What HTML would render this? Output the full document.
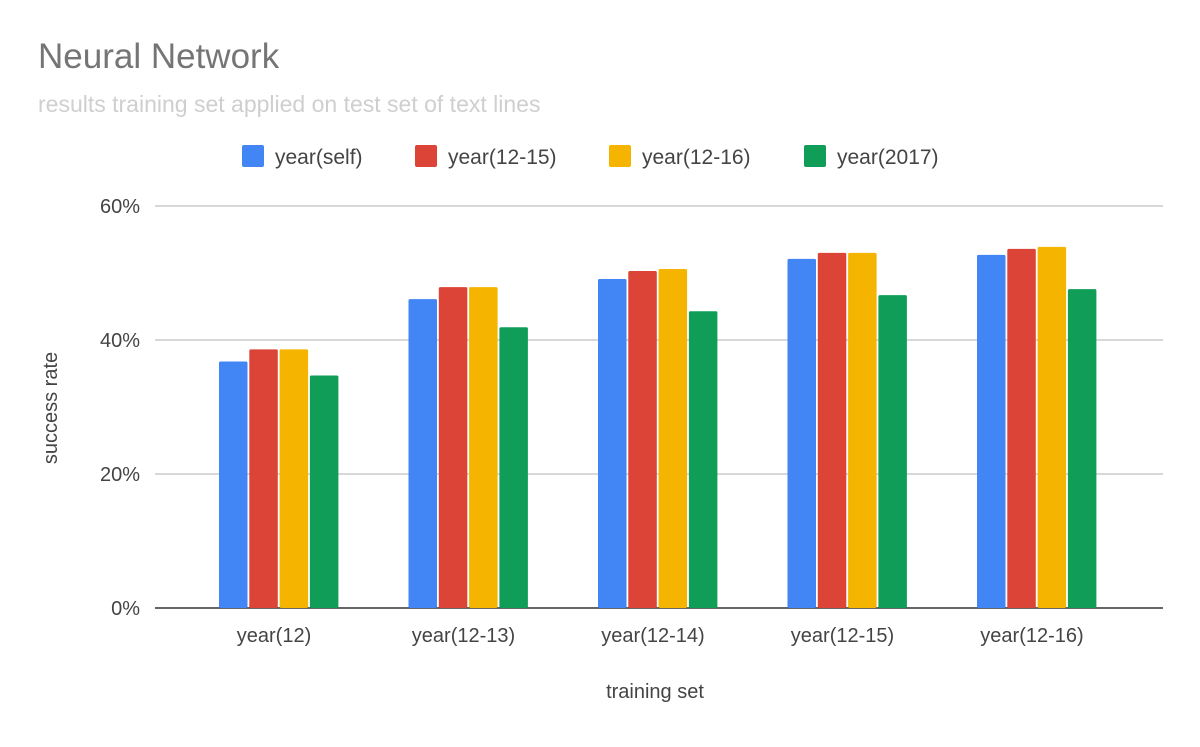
<!DOCTYPE html>
<html><head><meta charset="utf-8"><style>
body{margin:0;background:#fff;width:1200px;height:742px;overflow:hidden;font-family:"Liberation Sans",sans-serif}
</style></head><body>
<svg id="chart" width="1200" height="742">
<text x="38" y="68" font-size="35" fill="#757575">Neural Network</text>
<text x="38" y="112" font-size="23" fill="#cfcfcf">results training set applied on test set of text lines</text>
<g id="legend"></g>
<g id="grid"></g><g id="bars"></g><g id="labels"></g>
<text x="655" y="698" font-size="20" fill="#444" text-anchor="middle">training set</text>
<text transform="translate(57,408) rotate(-90)" font-size="20" fill="#444" text-anchor="middle">success rate</text>
</svg>
<script>
const categories=["year(12)","year(12-13)","year(12-14)","year(12-15)","year(12-16)"];
const seriesNames=["year(self)","year(12-15)","year(12-16)","year(2017)"];
const selfVals=[36.8,46.1,49.1,52.1,52.7];
const v1215=[38.6,47.9,50.3,53.0,53.6];
const v1216=[38.6,47.9,50.6,53.0,53.9];
const v2017=[34.7,41.9,44.3,46.7,47.6];
const yTicks=[0,20,40,60];
const series=[selfVals,v1215,v1216,v2017];
const colors=["#4285f4","#db4437","#f4b400","#0f9d58"];
const NS="http://www.w3.org/2000/svg";
const y=v=>608-v*6.7;
const cx=i=>279+189.5*i;
function mk(t,a,p){const e=document.createElementNS(NS,t);for(const k in a)e.setAttribute(k,a[k]);document.getElementById(p).appendChild(e);return e;}
yTicks.forEach(t=>{
 const l=mk('line',{x1:155,x2:1163,y1:y(t),y2:y(t),stroke:t===0?'#333':'#ccc','stroke-width':t===0?1.5:1.5},'grid');
 
 
 const tx=mk('text',{x:140,y:y(t)+7,'font-size':20,fill:'#444','text-anchor':'end'},'grid');
 tx.textContent=t+'%';
 
 
});
categories.forEach((c,i)=>{
 series.forEach((s,j)=>{
  const x=cx(i)-60+j*30.3;
  const r=mk('rect',{x:x,y:y(s[i]),width:28.5,height:608-y(s[i]),fill:colors[j],rx:1.5},'bars');
  
  
 });
 const t=mk('text',{x:cx(i)-5,y:642,'font-size':20,fill:'#444','text-anchor':'middle'},'labels');
 t.textContent=c;
 
 
});
const lx=[242,415,609,804];
seriesNames.forEach((n,j)=>{
 const r=mk('rect',{x:lx[j],y:145,width:22,height:22,fill:colors[j],rx:2},'legend');
 
 
 const t=mk('text',{x:lx[j]+33,y:164,'font-size':21,fill:'#444'},'legend');
 t.textContent=n;
 
 
});
</script>
</body></html>
